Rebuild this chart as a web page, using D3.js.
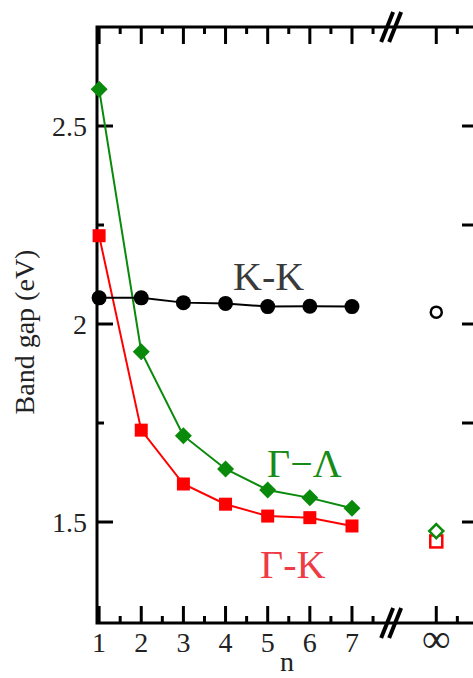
<!DOCTYPE html>
<html>
<head>
<meta charset="utf-8">
<script src="https://cdn.jsdelivr.net/npm/d3@7"></script>
<style>
  html, body { margin: 0; padding: 0; background: #fff; }
  svg { display: block; }
</style>
</head>
<body>
<svg id="chart" width="473" height="678"></svg>
<script>
// Number of layers n (bulk value is placed at the slot after the axis break)
const layers = [1, 2, 3, 4, 5, 6, 7];
const bulkSlot = 9;
const breakSlot = 8;

// Band gaps (eV) per layer count
const gapKK = [2.066, 2.066, 2.054, 2.052, 2.044, 2.045, 2.044];
const gapGammaLambda = [2.593, 1.930, 1.718, 1.634, 1.581, 1.561, 1.535];
const gapGammaK = [2.223, 1.732, 1.596, 1.545, 1.515, 1.511, 1.490];

// Bulk (n = ∞) band gaps
const bulkKK = 2.030;
const bulkGammaLambda = 1.477;
const bulkGammaK = 1.451;

// Axis ticks
const xMajor = [1, 2, 3, 4, 5, 6, 7, 9];
const xMinor = [1.5, 2.5, 3.5, 4.5, 5.5, 6.5, 7.5, 9.5];
const xTickLabels = ["1", "2", "3", "4", "5", "6", "7", "∞"];
const yMajor = [1.5, 2, 2.5];
const yMinor = [1.75, 2.25];

const svg = d3.select("#chart");
const pLeft = 97, pRight = 478, pTop = 27, pBottom = 623;

const x = d3.scaleLinear().domain([0.95, 9.99]).range([pLeft, pRight]);
const y = d3.scaleLinear().domain([1.245, 2.75]).range([pBottom, pTop]);

const black = "#000";
const green = "#0a8a0a";
const red = "#ff0000";
const serif = "Liberation Serif";

// Frame
svg.append("path")
  .attr("d", `M${pRight},${pTop}H${pLeft}V${pBottom}H${pRight}`)
  .attr("fill", "none").attr("stroke", black).attr("stroke-width", 3);

const tickW = 3;
// x ticks (bottom and top, pointing inward)
function xTicks(vals, len) {
  svg.append("g").selectAll("line").data(vals).join("line")
    .attr("x1", d => x(d)).attr("x2", d => x(d))
    .attr("y1", pBottom).attr("y2", pBottom - len)
    .attr("stroke", black).attr("stroke-width", tickW);
  svg.append("g").selectAll("line").data(vals).join("line")
    .attr("x1", d => x(d)).attr("x2", d => x(d))
    .attr("y1", pTop).attr("y2", pTop + len)
    .attr("stroke", black).attr("stroke-width", tickW);
}
xTicks(xMajor, 17);
xTicks(xMinor, 7);

// y ticks (left and right, pointing inward)
function yTicks(vals, lenL, lenR) {
  svg.append("g").selectAll("line").data(vals).join("line")
    .attr("x1", pLeft).attr("x2", pLeft + lenL)
    .attr("y1", d => y(d)).attr("y2", d => y(d))
    .attr("stroke", black).attr("stroke-width", tickW);
  svg.append("g").selectAll("line").data(vals).join("line")
    .attr("x1", pRight).attr("x2", pRight - lenR)
    .attr("y1", d => y(d)).attr("y2", d => y(d))
    .attr("stroke", black).attr("stroke-width", tickW);
}
yTicks(yMajor, 16, 16);
yTicks(yMinor, 7, 16);

// Axis break marks
const bx = x(breakSlot) - 3;
[pTop, pBottom].forEach(by => {
  [-4, 4].forEach(off => {
    svg.append("line")
      .attr("x1", bx + off - 6).attr("y1", by + 15)
      .attr("x2", bx + off + 6).attr("y2", by - 15)
      .attr("stroke", black).attr("stroke-width", 4);
  });
});

// Tick labels
svg.append("g").selectAll("text").data(yMajor).join("text")
  .attr("x", pLeft - 10).attr("y", d => y(d)).attr("dy", "0.35em")
  .attr("text-anchor", "end").attr("font-family", serif)
  .attr("font-size", 28).attr("fill", "#222")
  .text(d => d3.format("")(d));

svg.append("g").selectAll("text").data(xMajor).join("text")
  .attr("x", d => x(d)).attr("y", 652)
  .attr("text-anchor", "middle").attr("font-family", serif)
  .attr("font-size", (d, i) => xTickLabels[i] === "∞" ? 40 : 28)
  .attr("fill", "#222")
  .text((d, i) => xTickLabels[i]);

// Axis titles
svg.append("text")
  .attr("x", 287).attr("y", 671).attr("text-anchor", "middle")
  .attr("font-family", serif)
  .attr("font-size", 28).attr("fill", "#222").text("n");
svg.append("text")
  .attr("transform", "translate(34,332) rotate(-90)")
  .attr("text-anchor", "middle").attr("font-family", serif)
  .attr("font-size", 28).attr("fill", "#222")
  .text("Band gap (eV)");

// Series lines
const line = d3.line().x(d => x(d[0])).y(d => y(d[1]));
function series(vals, color) {
  svg.append("path")
    .datum(layers.map((n, i) => [n, vals[i]]))
    .attr("d", line).attr("fill", "none")
    .attr("stroke", color).attr("stroke-width", 2);
}
series(gapGammaK, red);
series(gapGammaLambda, green);
series(gapKK, black);

// Markers
svg.append("g").selectAll("rect").data(layers).join("rect")
  .attr("x", (d) => x(d) - 6.5).attr("y", (d, i) => y(gapGammaK[i]) - 6.5)
  .attr("width", 13).attr("height", 13).attr("fill", red);

const diamond = s => `M0,${-s}L${s},0L0,${s}L${-s},0Z`;
svg.append("g").selectAll("path").data(layers).join("path")
  .attr("transform", (d, i) => `translate(${x(d)},${y(gapGammaLambda[i])})`)
  .attr("d", diamond(8.5)).attr("fill", green);

svg.append("g").selectAll("circle").data(layers).join("circle")
  .attr("cx", d => x(d)).attr("cy", (d, i) => y(gapKK[i]))
  .attr("r", 7.5).attr("fill", black);

// Bulk markers (open symbols)
svg.append("rect")
  .attr("x", x(bulkSlot) - 6).attr("y", y(bulkGammaK) - 6)
  .attr("width", 12).attr("height", 12)
  .attr("fill", "none").attr("stroke", red).attr("stroke-width", 2.5);
svg.append("path")
  .attr("transform", `translate(${x(bulkSlot)},${y(bulkGammaLambda)})`)
  .attr("d", diamond(7)).attr("fill", "#fff")
  .attr("stroke", green).attr("stroke-width", 2.5);
svg.append("circle")
  .attr("cx", x(bulkSlot)).attr("cy", y(bulkKK)).attr("r", 5.5)
  .attr("fill", "none").attr("stroke", black).attr("stroke-width", 2.5);

// Series labels
svg.append("text").attr("x", 233).attr("y", 290).attr("font-family", serif)
  .attr("font-size", 40).attr("fill", "#3a3a3a").text("K-K");
svg.append("text").attr("x", 267).attr("y", 477).attr("font-family", serif)
  .attr("font-size", 40).attr("fill", "#168c16").text("Γ−Λ");
svg.append("text").attr("x", 260).attr("y", 578).attr("font-family", serif)
  .attr("font-size", 40).attr("fill", "#ee3b45").text("Γ-K");
</script>
</body>
</html>
